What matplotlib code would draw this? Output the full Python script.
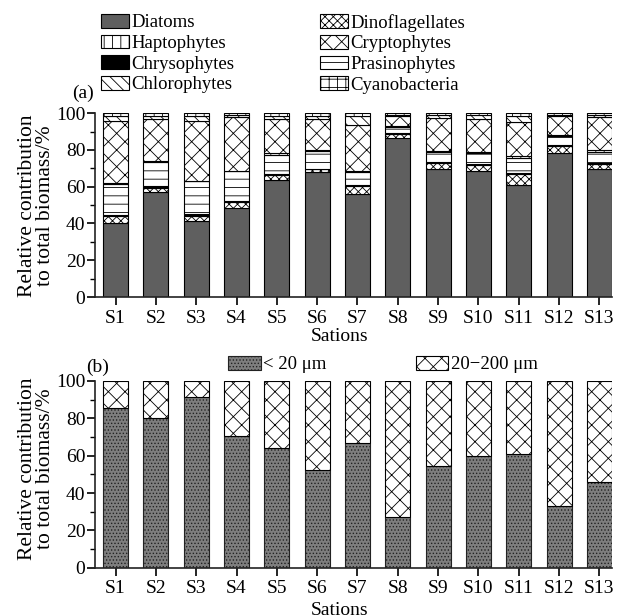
import numpy as np
import matplotlib
matplotlib.use("Agg")
import matplotlib.pyplot as plt
from matplotlib.patches import Patch

plt.rcParams['font.family'] = ['Liberation Serif', 'DejaVu Serif']
plt.rcParams['hatch.linewidth'] = 0.6

stations = ['S1', 'S2', 'S3', 'S4', 'S5', 'S6', 'S7', 'S8', 'S9', 'S10', 'S11', 'S12', 'S13']

# panel (a): relative contribution of each group (%), bottom to top
diatoms = [40.5, 57.3, 41.4, 48.6, 63.6, 67.9, 55.9, 86.5, 69.4, 68.5, 60.9, 78.4, 69.4]
dinoflagellates = [3.6, 2.2, 2.7, 3.1, 2.9, 1.5, 4.5, 2.1, 3.6, 3.5, 5.8, 3.6, 3.0]
chrysophytes = [0.6, 0.7, 0.8, 0.6, 0.5, 0.4, 0.6, 0.6, 0.7, 0.5, 0.9, 0.9, 0.6]
prasinophytes = [16.9, 13.5, 18.0, 16.2, 10.5, 9.5, 6.9, 3.1, 5.0, 5.9, 8.1, 4.5, 5.7]
haptophytes = [0.6, 0.5, 0.3, 0.3, 0.7, 0.5, 0.6, 0.5, 0.9, 0.5, 0.9, 0.9, 1.1]
cryptophytes = [33.5, 22.8, 32.8, 29.0, 18.8, 17.2, 25.2, 5.8, 17.7, 17.9, 18.4, 9.9, 18.0]
chlorophytes = [3.0, 1.7, 2.2, 1.2, 1.7, 1.7, 4.5, 0.6, 1.7, 2.2, 3.6, 0.8, 1.2]
cyanobacteria = [1.3, 1.3, 1.8, 1.0, 1.3, 1.3, 1.8, 0.8, 1.0, 1.0, 1.4, 1.0, 1.0]

# panel (b): size fractions (%)
small = [85.7, 80.0, 91.4, 70.4, 64.0, 52.5, 66.8, 27.0, 54.3, 59.8, 60.9, 33.0, 45.7]
large = [100 - v for v in small]

groups = [
    ('Diatoms', diatoms, dict(facecolor='#5f5f5f', hatch=None)),
    ('Dinoflagellates', dinoflagellates, dict(facecolor='white', hatch='xxxx')),
    ('Chrysophytes', chrysophytes, dict(facecolor='black', hatch=None)),
    ('Prasinophytes', prasinophytes, dict(facecolor='white', hatch='--')),
    ('Haptophytes', haptophytes, dict(facecolor='white', hatch='||')),
    ('Cryptophytes', cryptophytes, dict(facecolor='white', hatch='xx')),
    ('Chlorophytes', chlorophytes, dict(facecolor='white', hatch='\\\\\\')),
    ('Cyanobacteria', cyanobacteria, dict(facecolor='white', hatch='++')),
]
styles = {name: st for name, _, st in groups}

fig = plt.figure(figsize=(6.19, 6.15), dpi=100)
ax1 = fig.add_axes([0.1535, 0.517, 0.835, 0.299])
ax2 = fig.add_axes([0.1535, 0.0769, 0.835, 0.3036])

x = np.arange(len(stations))
w = 0.62

bottom = np.zeros(len(stations))
for name, vals, st in groups:
    ax1.bar(x, vals, w, bottom=bottom, edgecolor='black', linewidth=0.8, **st)
    bottom += np.array(vals)

ax2.bar(x, small, w, facecolor='#7e7e7e', hatch='.....', edgecolor='#222222', linewidth=0.8)
ax2.bar(x, large, w, bottom=small, facecolor='white', hatch='xx', edgecolor='black', linewidth=0.8)

for ax, ly in ((ax1, 0.495), (ax2, 0.53)):
    ax.set_xlim(-0.51, 12.31)
    ax.set_ylim(0, 100)
    ax.set_yticks(range(0, 101, 20))
    ax.set_yticks(range(0, 101, 10), minor=True)
    ax.set_xticks(x)
    ax.set_xticklabels(stations)
    ax.spines['top'].set_visible(False)
    ax.spines['right'].set_visible(False)
    for s in ('left', 'bottom'):
        ax.spines[s].set_linewidth(1.2)
        ax.spines[s].set_color('#222222')
    ax.tick_params(axis='both', which='major', labelsize=14, length=6, width=1.2, direction='out')
    ax.tick_params(axis='y', which='minor', length=3.5, width=1.0)
    ax.tick_params(axis='y', pad=1)
    ax.tick_params(axis='x', pad=3)
    ax.set_ylabel('Relative contribution\nto total biomass/%', fontsize=15.5, linespacing=0.92)
    ax.yaxis.set_label_coords(-0.077, ly)
    ax.set_xlabel('Sations', fontsize=14)

ax1.xaxis.set_label_coords(0.474, -0.168)
ax2.xaxis.set_label_coords(0.474, -0.184)

def handle(name):
    st = styles[name]
    return Patch(facecolor=st['facecolor'], hatch=st['hatch'], edgecolor='black', linewidth=0.8, label=name)

leg_kw = dict(frameon=False, fontsize=13.5, handlelength=1.5, handleheight=0.75,
              handletextpad=0.12, labelspacing=0.17, borderpad=0, borderaxespad=0,
              loc='upper left')
col1 = ['Diatoms', 'Haptophytes', 'Chrysophytes', 'Chlorophytes']
col2 = ['Dinoflagellates', 'Cryptophytes', 'Prasinophytes', 'Cyanobacteria']
fig.legend(handles=[handle(n) for n in col1], bbox_to_anchor=(101 / 619, 1 - 14 / 615), **leg_kw)
fig.legend(handles=[handle(n) for n in col2], bbox_to_anchor=(320 / 619, 1 - 14 / 615), **leg_kw)

hb = [Patch(facecolor='#7e7e7e', hatch='.....', edgecolor='#222222', linewidth=0.8, label='< 20 μm'),
      Patch(facecolor='white', hatch='xx', edgecolor='black', linewidth=0.8, label='20−200 μm')]
fig.legend(handles=hb, ncol=2, columnspacing=4.75, bbox_to_anchor=(228 / 619, 1 - 356 / 615),
           frameon=False, fontsize=13.5, handlelength=1.75, handleheight=0.75,
           handletextpad=0.12, borderpad=0, borderaxespad=0, loc='upper left')

fig.text(72 / 619, 1 - 93 / 615, '(a)', fontsize=14, va='center', ha='left')
fig.text(86 / 619, 1 - 367 / 615, '(b)', fontsize=14, va='center', ha='left')

fig.savefig('out.png', dpi=100)
